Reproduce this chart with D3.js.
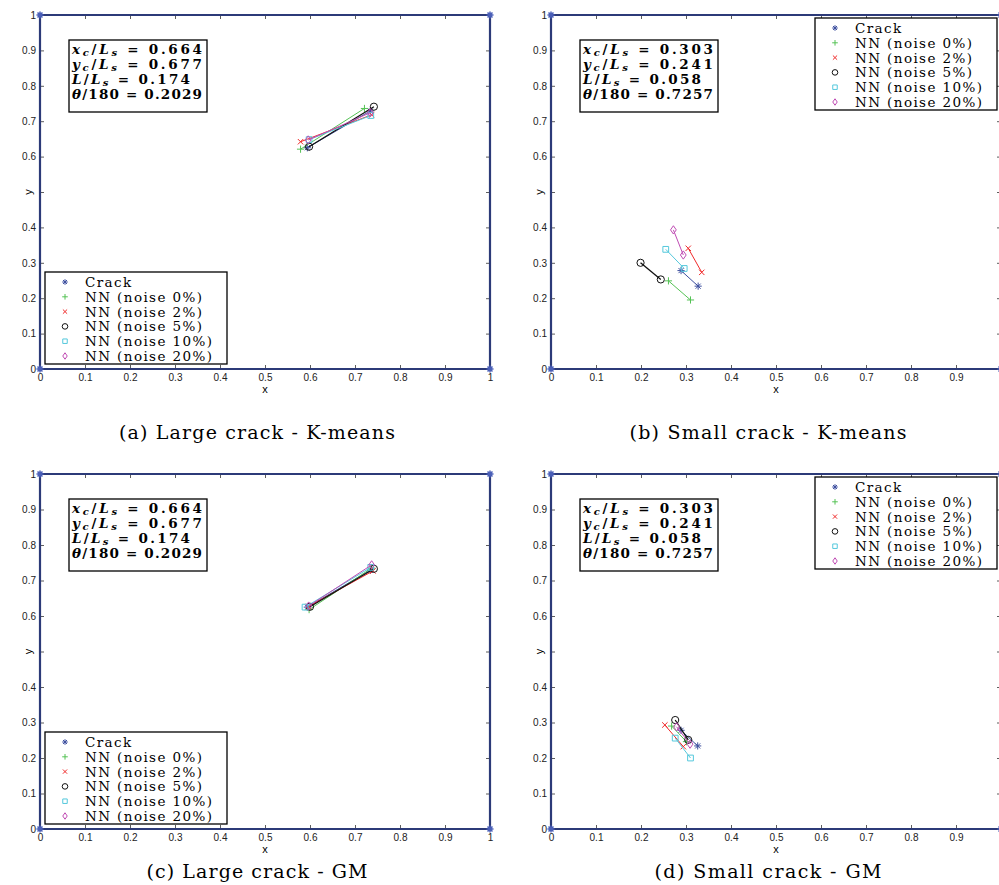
<!DOCTYPE html>
<html>
<head>
<meta charset="utf-8">
<script src="https://cdn.jsdelivr.net/npm/d3@7"></script>
<style>
  body { margin: 0; background: #fff; }
  svg { display: block; }
</style>
</head>
<body>
<svg id="fig" width="999" height="885"></svg>
<script>
// series names, in legend order
var seriesNames = ['Crack', 'NN (noise 0%)', 'NN (noise 2%)', 'NN (noise 5%)', 'NN (noise 10%)', 'NN (noise 20%)']

// crack segments: [x1, y1, x2, y2] per series
var largeKmeans = [
  [0.594, 0.625, 0.734, 0.729],
  [0.579, 0.621, 0.721, 0.736],
  [0.579, 0.642, 0.737, 0.718],
  [0.598, 0.628, 0.742, 0.741],
  [0.598, 0.648, 0.735, 0.716],
  [0.596, 0.647, 0.734, 0.724]
]
var smallKmeans = [
  [0.289, 0.278, 0.327, 0.234],
  [0.261, 0.249, 0.310, 0.195],
  [0.305, 0.341, 0.335, 0.273],
  [0.199, 0.300, 0.244, 0.253],
  [0.255, 0.338, 0.296, 0.284],
  [0.272, 0.393, 0.294, 0.322]
]
var largeGM = [
  [0.594, 0.625, 0.734, 0.729],
  [0.598, 0.618, 0.737, 0.735],
  [0.597, 0.627, 0.740, 0.727],
  [0.600, 0.626, 0.742, 0.733],
  [0.589, 0.625, 0.735, 0.737],
  [0.597, 0.628, 0.737, 0.744]
]
var smallGM = [
  [0.289, 0.278, 0.326, 0.234],
  [0.268, 0.290, 0.301, 0.246],
  [0.253, 0.293, 0.294, 0.232],
  [0.276, 0.307, 0.305, 0.251],
  [0.276, 0.256, 0.310, 0.200],
  [0.279, 0.288, 0.309, 0.239]
]

// true crack parameters shown in the text box
var largeParams = ['0.664', '0.677', '0.174', '0.2029']
var smallParams = ['0.303', '0.241', '0.058', '0.7257']

var tickValues = [0, 0.1, 0.2, 0.3, 0.4, 0.5, 0.6, 0.7, 0.8, 0.9, 1]
var domainCorners = [[0, 0], [1, 0], [1, 1], [0, 1], [0, 0]]

var captions = ['(a)  Large crack - K-means', '(b)  Small crack - K-means', '(c)  Large crack - GM', '(d)  Small crack - GM']

var colors = ['#3d4f9f', '#55c255', '#f02a2a', '#111111', '#55c8dc', '#c04cb4']
var markers = ['star', 'plus', 'cross', 'circle', 'square', 'diamond']
var frameColor = '#2c3a78'

var svg = d3.select('#fig')

// marker paths centred on 0,0
function markerPath (type, s) {
  var p = d3.path()
  if (type === 'star') {
    for (var i = 0; i < 4; i++) {
      var a = i * Math.PI / 4
      p.moveTo(-s * Math.cos(a), -s * Math.sin(a))
      p.lineTo(s * Math.cos(a), s * Math.sin(a))
    }
  } else if (type === 'plus') {
    p.moveTo(-s, 0); p.lineTo(s, 0); p.moveTo(0, -s); p.lineTo(0, s)
  } else if (type === 'cross') {
    var c = s * 0.75
    p.moveTo(-c, -c); p.lineTo(c, c); p.moveTo(-c, c); p.lineTo(c, -c)
  } else if (type === 'circle') {
    p.moveTo(s, 0); p.arc(0, 0, s, 0, 2 * Math.PI)
  } else if (type === 'square') {
    var q = s * 0.8
    p.rect(-q, -q, 2 * q, 2 * q)
  } else if (type === 'diamond') {
    p.moveTo(0, -s * 1.15); p.lineTo(s * 0.8, 0); p.lineTo(0, s * 1.15); p.lineTo(-s * 0.8, 0); p.closePath()
  }
  return p.toString()
}

function drawPanel (cfg) {
  var x = d3.scaleLinear().domain([0, 1]).range([cfg.left, cfg.left + 450])
  var y = d3.scaleLinear().domain([0, 1]).range([cfg.top + cfg.h, cfg.top])
  var g = svg.append('g')

  // axes with inward ticks; the y label sits where 0.5 would be
  var fmt = d3.format('~g')
  var xFmt = function (d) { return (cfg.clipRight && d === 1) ? '' : fmt(d) }
  var yFmt = function (d) { return d === 0.5 ? '' : fmt(d) }
  g.append('g').attr('transform', 'translate(0,' + (cfg.top + cfg.h) + ')')
    .call(d3.axisBottom(x).tickValues(tickValues).tickFormat(xFmt).tickSizeInner(-4).tickSizeOuter(0).tickPadding(5))
  g.append('g').attr('transform', 'translate(' + cfg.left + ',0)')
    .call(d3.axisLeft(y).tickValues(tickValues).tickFormat(yFmt).tickSizeInner(-4).tickSizeOuter(0).tickPadding(4))
  g.append('g').attr('transform', 'translate(0,' + cfg.top + ')')
    .call(d3.axisTop(x).tickValues(tickValues).tickFormat('').tickSizeInner(-4).tickSizeOuter(0))
  g.append('g').attr('transform', 'translate(' + (cfg.left + 450) + ',0)')
    .call(d3.axisRight(y).tickValues(tickValues).tickFormat('').tickSizeInner(-4).tickSizeOuter(0))
  g.selectAll('.domain').remove()
  g.selectAll('.tick line').attr('stroke', '#333').attr('stroke-width', 0.8)
  g.selectAll('.tick text').attr('font-family', 'Liberation Sans, Arial, sans-serif').attr('font-size', 10).attr('fill', '#222')

  g.append('text').attr('x', x(0.5)).attr('y', cfg.top + cfg.h + 24)
    .attr('text-anchor', 'middle').attr('font-family', 'Liberation Sans, Arial, sans-serif').attr('font-size', 11).text('x')
  g.append('text').attr('transform', 'translate(' + (cfg.left - 8) + ',' + y(0.5) + ') rotate(-90)')
    .attr('text-anchor', 'middle').attr('font-family', 'Liberation Sans, Arial, sans-serif').attr('font-size', 11).text('y')

  // domain outline with corner markers
  var line = d3.line().x(function (d) { return x(d[0]) }).y(function (d) { return y(d[1]) })
  g.append('path').datum(domainCorners).attr('d', line)
    .attr('fill', 'none').attr('stroke', frameColor).attr('stroke-width', 2.2)
  g.selectAll('path.corner').data(domainCorners.slice(0, 4)).enter().append('path')
    .attr('class', 'corner')
    .attr('transform', function (d) { return 'translate(' + x(d[0]) + ',' + y(d[1]) + ')' })
    .attr('d', markerPath('star', 3.5)).attr('stroke', '#4a5fb8').attr('stroke-width', 1.5)

  // crack and predictions
  cfg.data.forEach(function (seg, i) {
    g.append('line')
      .attr('x1', x(seg[0])).attr('y1', y(seg[1]))
      .attr('x2', x(seg[2])).attr('y2', y(seg[3]))
      .attr('stroke', colors[i]).attr('stroke-width', i === 3 ? 1.3 : 1)
    ;[[seg[0], seg[1]], [seg[2], seg[3]]].forEach(function (pt) {
      g.append('path')
        .attr('transform', 'translate(' + x(pt[0]) + ',' + y(pt[1]) + ')')
        .attr('d', markerPath(markers[i], 3.6))
        .attr('fill', 'none').attr('stroke', colors[i]).attr('stroke-width', 1)
    })
  })

  // parameter box
  var bx = cfg.left + 29
  var by = cfg.top + 25
  g.append('rect').attr('x', bx).attr('y', by).attr('width', 138).attr('height', 72)
    .attr('fill', '#fff').attr('stroke', '#000').attr('stroke-width', 1.3)
  var rows = [['x', 'c', 'L', 's'], ['y', 'c', 'L', 's'], ['L', '', 'L', 's'], ['\u03b8', '', '180', '']]
  var rowLen = [130, 130, 118, 130]
  rows.forEach(function (r, i) {
    var t = g.append('text').attr('x', bx + 3).attr('y', by + 14 + i * 15)
      .attr('font-family', 'DejaVu Serif, serif').attr('font-size', 13.5).attr('font-weight', 'bold')
      .attr('textLength', rowLen[i]).attr('lengthAdjust', 'spacing')
    t.append('tspan').attr('font-style', 'italic').text(r[0])
    if (r[1]) t.append('tspan').attr('font-style', 'italic').attr('font-size', 10).attr('dy', 2).text(r[1])
    t.append('tspan').attr('dy', r[1] ? -2 : 0).text('/')
    t.append('tspan').attr('font-style', r[2] === '180' ? 'normal' : 'italic').text(r[2])
    if (r[3]) t.append('tspan').attr('font-style', 'italic').attr('font-size', 10).attr('dy', 2).text(r[3])
    t.append('tspan').attr('dy', r[3] ? -2 : 0).text(' = ' + cfg.params[i])
  })

  // legend
  var lx = cfg.legendRight ? cfg.left + 264 : cfg.left + 5
  var ly = cfg.legendRight ? cfg.top + 3 : cfg.top + cfg.h - 97
  g.append('rect').attr('x', lx).attr('y', ly).attr('width', 182).attr('height', 92)
    .attr('fill', '#fff').attr('stroke', '#000').attr('stroke-width', 1.3)
  seriesNames.forEach(function (name, i) {
    var cy = ly + 10 + i * 14.8
    g.append('path').attr('transform', 'translate(' + (lx + 20) + ',' + cy + ')')
      .attr('d', markerPath(markers[i], 2.8))
      .attr('fill', 'none').attr('stroke', colors[i]).attr('stroke-width', 1)
    g.append('text').attr('x', lx + 40).attr('y', cy + 5)
      .attr('font-family', 'DejaVu Serif, serif').attr('font-size', 13.5)
      .attr('letter-spacing', 1.4)
      .text(name)
  })

  // caption
  svg.append('text').attr('x', cfg.left + 217).attr('y', cfg.captionY)
    .attr('text-anchor', 'middle').attr('font-family', 'DejaVu Serif, serif').attr('font-size', 19)
    .attr('textLength', cfg.captionLen).attr('lengthAdjust', 'spacing')
    .text(cfg.caption)
}

drawPanel({ left: 40, top: 15, h: 354, data: largeKmeans, params: largeParams, legendRight: false, caption: captions[0], captionY: 439, captionLen: 276 })
drawPanel({ left: 551, top: 15, h: 354, data: smallKmeans, params: smallParams, legendRight: true, clipRight: true, caption: captions[1], captionY: 439, captionLen: 277 })
drawPanel({ left: 40, top: 474, h: 355, data: largeGM, params: largeParams, legendRight: false, caption: captions[2], captionY: 878, captionLen: 221 })
drawPanel({ left: 551, top: 474, h: 355, data: smallGM, params: smallParams, legendRight: true, clipRight: true, caption: captions[3], captionY: 878, captionLen: 227 })
</script>
</body>
</html>
